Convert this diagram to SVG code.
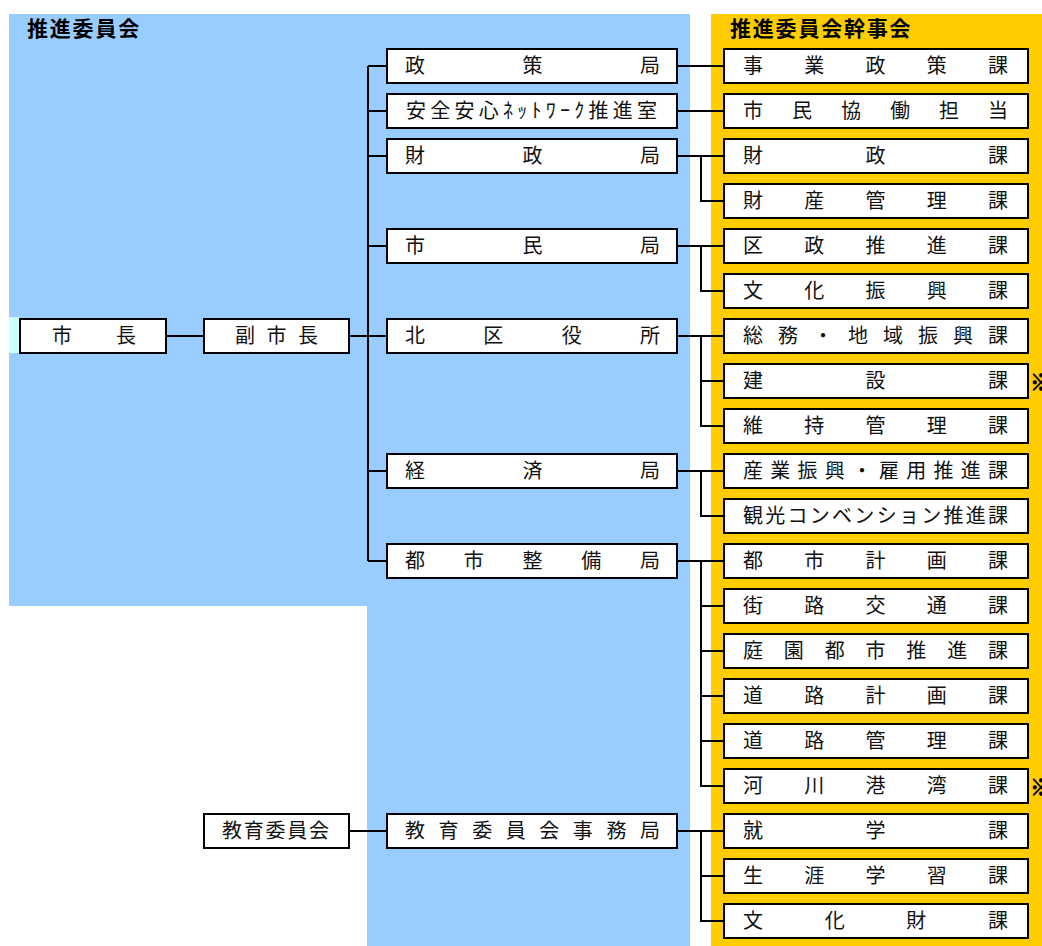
<svg xmlns="http://www.w3.org/2000/svg" width="1042" height="946" viewBox="0 0 1042 946">
<style>
.bx{fill:#fff;stroke:#000;stroke-width:2}
.t{font-family:"Noto Sans CJK JP","Liberation Sans",sans-serif;font-size:20px;fill:#111}
.h{font-family:"Noto Sans CJK JP","Liberation Sans",sans-serif;font-size:21px;font-weight:bold;fill:#000}
.m{font-family:"Noto Sans CJK JP","Liberation Sans",sans-serif;font-size:22px;font-weight:bold;fill:#000;stroke:#000;stroke-width:0.8}
.c{fill:none;stroke:#000;stroke-width:2}
</style>
<rect width="1042" height="946" fill="#fff"/>
<g id="background">
<path d="M9 14H690V946H367V606H9Z" fill="#99ccff"/>
<rect x="711" y="14" width="331" height="932" fill="#ffcc00"/>
<rect x="9" y="317" width="11" height="36" fill="#ccffff"/>
<text class="t" x="-2" y="-1" fill="#444">を主とする。</text>
<text class="h" x="27" y="36" letter-spacing="1.8">推進委員会</text>
<text class="h" x="730" y="36" letter-spacing="1.8">推進委員会幹事会</text>
</g>
<g id="connectors" class="c">
<path d="M167 336H203"/>
<path d="M350 336H386"/>
<path d="M368 66V561"/>
<path d="M368 66H386M368 111H386M368 156H386M368 246H386M368 471H386M368 561H386"/>
<path d="M350 831H386"/>
<path d="M678 66H723"/>
<path d="M678 111H723"/>
<path d="M678 156H723M701 156V201H723"/>
<path d="M678 246H723M701 246V291H723"/>
<path d="M678 336H723M701 336V426H723M701 381H723"/>
<path d="M678 471H723M701 471V516H723"/>
<path d="M678 561H723M701 561V786H723M701 606H723M701 651H723M701 696H723M701 741H723"/>
<path d="M678 831H723M701 831V921H723M701 876H723"/>
</g>
<g id="n-shicho"><rect class="bx" x="20" y="319" width="146" height="34"/><text class="t" x="52" y="343" textLength="84" lengthAdjust="spacing">市長</text></g>
<g id="n-fukushicho"><rect class="bx" x="204" y="319" width="145" height="34"/><text class="t" x="235" y="343" textLength="83" lengthAdjust="spacing">副市長</text></g>
<g id="n-kyoikuiinkai"><rect class="bx" x="204" y="814" width="145" height="34"/><text class="t" x="222" y="838" textLength="107" lengthAdjust="spacing">教育委員会</text></g>

<g id="n-seisakukyoku"><rect class="bx" x="387" y="49" width="290" height="34"/><text class="t" x="405" y="73" textLength="255" lengthAdjust="spacing">政策局</text></g>
<g id="n-anzen"><rect class="bx" x="387" y="94" width="290" height="34"/><text class="t" x="406" y="118" textLength="251" lengthAdjust="spacing">安全安心ﾈｯﾄﾜｰｸ推進室</text></g>
<g id="n-zaiseikyoku"><rect class="bx" x="387" y="139" width="290" height="34"/><text class="t" x="405" y="163" textLength="255" lengthAdjust="spacing">財政局</text></g>
<g id="n-shiminkyoku"><rect class="bx" x="387" y="229" width="290" height="34"/><text class="t" x="405" y="253" textLength="255" lengthAdjust="spacing">市民局</text></g>
<g id="n-kitaku"><rect class="bx" x="387" y="319" width="290" height="34"/><text class="t" x="405" y="343" textLength="255" lengthAdjust="spacing">北区役所</text></g>
<g id="n-keizaikyoku"><rect class="bx" x="387" y="454" width="290" height="34"/><text class="t" x="405" y="478" textLength="255" lengthAdjust="spacing">経済局</text></g>
<g id="n-toshiseibi"><rect class="bx" x="387" y="544" width="290" height="34"/><text class="t" x="405" y="568" textLength="255" lengthAdjust="spacing">都市整備局</text></g>
<g id="n-kyoikujimu"><rect class="bx" x="387" y="814" width="290" height="34"/><text class="t" x="405" y="838" textLength="255" lengthAdjust="spacing">教育委員会事務局</text></g>

<g id="r0"><rect class="bx" x="724" y="49" width="304" height="34"/><text class="t" x="743" y="73" textLength="265" lengthAdjust="spacing">事業政策課</text></g>
<g id="r1"><rect class="bx" x="724" y="94" width="304" height="34"/><text class="t" x="743" y="118" textLength="265" lengthAdjust="spacing">市民協働担当</text></g>
<g id="r2"><rect class="bx" x="724" y="139" width="304" height="34"/><text class="t" x="743" y="163" textLength="265" lengthAdjust="spacing">財政課</text></g>
<g id="r3"><rect class="bx" x="724" y="184" width="304" height="34"/><text class="t" x="743" y="208" textLength="265" lengthAdjust="spacing">財産管理課</text></g>
<g id="r4"><rect class="bx" x="724" y="229" width="304" height="34"/><text class="t" x="743" y="253" textLength="265" lengthAdjust="spacing">区政推進課</text></g>
<g id="r5"><rect class="bx" x="724" y="274" width="304" height="34"/><text class="t" x="743" y="298" textLength="265" lengthAdjust="spacing">文化振興課</text></g>
<g id="r6"><rect class="bx" x="724" y="319" width="304" height="34"/><text class="t" x="743" y="343" textLength="265" lengthAdjust="spacing">総務・地域振興課</text></g>
<g id="r7"><rect class="bx" x="724" y="364" width="304" height="34"/><text class="t" x="743" y="388" textLength="265" lengthAdjust="spacing">建設課</text><text class="m" x="1030" y="390">※</text></g>
<g id="r8"><rect class="bx" x="724" y="409" width="304" height="34"/><text class="t" x="743" y="433" textLength="265" lengthAdjust="spacing">維持管理課</text></g>
<g id="r9"><rect class="bx" x="724" y="454" width="304" height="34"/><text class="t" x="743" y="478" textLength="265" lengthAdjust="spacing">産業振興・雇用推進課</text></g>
<g id="r10"><rect class="bx" x="724" y="499" width="304" height="34"/><text class="t" x="743" y="523" textLength="265" lengthAdjust="spacing">観光コンベンション推進課</text></g>
<g id="r11"><rect class="bx" x="724" y="544" width="304" height="34"/><text class="t" x="743" y="568" textLength="265" lengthAdjust="spacing">都市計画課</text></g>
<g id="r12"><rect class="bx" x="724" y="589" width="304" height="34"/><text class="t" x="743" y="613" textLength="265" lengthAdjust="spacing">街路交通課</text></g>
<g id="r13"><rect class="bx" x="724" y="634" width="304" height="34"/><text class="t" x="743" y="658" textLength="265" lengthAdjust="spacing">庭園都市推進課</text></g>
<g id="r14"><rect class="bx" x="724" y="679" width="304" height="34"/><text class="t" x="743" y="703" textLength="265" lengthAdjust="spacing">道路計画課</text></g>
<g id="r15"><rect class="bx" x="724" y="724" width="304" height="34"/><text class="t" x="743" y="748" textLength="265" lengthAdjust="spacing">道路管理課</text></g>
<g id="r16"><rect class="bx" x="724" y="769" width="304" height="34"/><text class="t" x="743" y="793" textLength="265" lengthAdjust="spacing">河川港湾課</text><text class="m" x="1030" y="795">※</text></g>
<g id="r17"><rect class="bx" x="724" y="814" width="304" height="34"/><text class="t" x="743" y="838" textLength="265" lengthAdjust="spacing">就学課</text></g>
<g id="r18"><rect class="bx" x="724" y="859" width="304" height="34"/><text class="t" x="743" y="883" textLength="265" lengthAdjust="spacing">生涯学習課</text></g>
<g id="r19"><rect class="bx" x="724" y="904" width="304" height="34"/><text class="t" x="743" y="928" textLength="265" lengthAdjust="spacing">文化財課</text></g>
</svg>
